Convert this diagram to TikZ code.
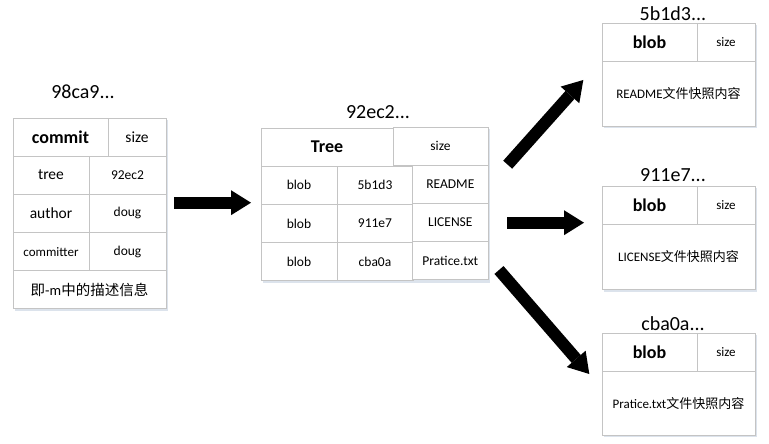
\documentclass[tikz,border=0pt]{standalone}
\usepackage{fontspec}
\setmainfont{Carlito}
\newfontfamily\cjk{Noto Sans CJK SC}
\usetikzlibrary{arrows.meta}
\definecolor{cellgray}{HTML}{C4C4C4}
\definecolor{shadowc}{HTML}{DCE3EC}
\tikzset{
  cell/.style={draw=cellgray, fill=white, line width=0.9pt, anchor=north west,
    inner sep=0pt, outer sep=0pt, text=black, align=center},
  hdr/.style={font=\fontsize{18}{20}\selectfont\bfseries},
  big/.style={font=\fontsize{15.5}{18}\selectfont},
  mid/.style={font=\fontsize{13.5}{16}\selectfont},
  sml/.style={font=\fontsize{13}{15}\selectfont},
  ttl/.style={font=\fontsize{20}{22}\selectfont, inner sep=0pt, text=black},
  shadowbox/.style={fill=shadowc},
  fatarrow/.style={line width=12pt, -{Triangle[length=20pt,width=25pt,line width=0pt]}},
}
\begin{document}
\begin{tikzpicture}[x=1pt,y=-1pt]
\useasboundingbox (0,0) rectangle (769,444);
% shadows
\fill[shadowbox] (14.5,120) rectangle (167.5,310.5);
\fill[shadowbox] (262.5,129) rectangle (490,282.5);
\fill[shadowbox] (603.5,25) rectangle (756.5,128.3);
\fill[shadowbox] (603.5,187.7) rectangle (756.5,291.5);
\fill[shadowbox] (603.5,335) rectangle (756.5,437.3);
% commit table
\node[ttl] (t-commit) at (83,92) {98ca9...};
\node[cell,hdr,minimum width=95pt,minimum height=38pt] (c-commit) at (13,118) {commit};
\node[cell,big,minimum width=58pt,minimum height=38pt] (c-size) at (108,118) {size};
\node[cell,big,minimum width=76pt,minimum height=38.3pt] (c-tree) at (13,156) {tree};
\node[cell,mid,minimum width=77pt,minimum height=38.3pt] (c-treev) at (89,156) {92ec2};
\node[cell,big,minimum width=76pt,minimum height=38.3pt] (c-author) at (13,194.3) {author};
\node[cell,mid,minimum width=77pt,minimum height=38.3pt] (c-authorv) at (89,194.3) {doug};
\node[cell,sml,minimum width=76pt,minimum height=38.3pt] (c-committer) at (13,232.6) {committer};
\node[cell,mid,minimum width=77pt,minimum height=38.3pt] (c-committerv) at (89,232.6) {doug};
\node[cell,font=\fontsize{14.5}{17}\selectfont,minimum width=153pt,minimum height=37.5pt] (c-msg) at (13,270.9) {{\cjk 即}-m{\cjk 中的描述信息}};
% tree table
\node[ttl] (t-tree) at (378,112) {92ec2...};
\node[cell,hdr,minimum width=132pt,minimum height=38pt] (r-tree) at (261,128) {Tree};
\node[cell,mid,minimum width=95pt,minimum height=38.5pt] (r-size) at (393,127) {size};
\node[cell,mid,minimum width=76pt,minimum height=38.3pt] (r-b1) at (261,166) {blob};
\node[cell,mid,minimum width=76pt,minimum height=38.3pt] (r-h1) at (337,166) {5b1d3};
\node[cell,mid,minimum width=75.3pt,minimum height=38pt] (r-n1) at (412.7,165.5) {README};
\node[cell,mid,minimum width=76pt,minimum height=38.3pt] (r-b2) at (261,204.3) {blob};
\node[cell,mid,minimum width=76pt,minimum height=38.3pt] (r-h2) at (337,204.3) {911e7};
\node[cell,mid,minimum width=75.3pt,minimum height=38pt] (r-n2) at (412.7,203.5) {LICENSE};
\node[cell,mid,minimum width=76pt,minimum height=38pt] (r-b3) at (261,242.6) {blob};
\node[cell,mid,minimum width=76pt,minimum height=38pt] (r-h3) at (337,242.6) {cba0a};
\node[cell,mid,minimum width=75.3pt,minimum height=37.8pt] (r-n3) at (412.7,241.5) {Pratice.txt};
% blob 1
\node[ttl] (t-b1) at (673,14) {5b1d3...};
\node[cell,hdr,minimum width=95pt,minimum height=38pt] (b1-h) at (602,23.3) {blob};
\node[cell,sml,minimum width=58pt,minimum height=38pt] (b1-s) at (697,23.3) {size};
\node[cell,sml,minimum width=153pt,minimum height=64.7pt] (b1-c) at (602,61.3) {README{\cjk 文件快照内容}};
% blob 2
\node[ttl] (t-b2) at (673,175) {911e7...};
\node[cell,hdr,minimum width=95pt,minimum height=38pt] (b2-h) at (602,186) {blob};
\node[cell,sml,minimum width=58pt,minimum height=38pt] (b2-s) at (697,186) {size};
\node[cell,sml,minimum width=153pt,minimum height=65.3pt] (b2-c) at (602,224) {LICENSE{\cjk 文件快照内容}};
% blob 3
\node[ttl] (t-b3) at (673,324) {cba0a...};
\node[cell,hdr,minimum width=95pt,minimum height=38pt] (b3-h) at (602,333.3) {blob};
\node[cell,sml,minimum width=58pt,minimum height=38pt] (b3-s) at (697,333.3) {size};
\node[cell,sml,minimum width=153pt,minimum height=63.7pt] (b3-c) at (602,371.3) {Pratice.txt{\cjk 文件快照内容}};
% arrows
\coordinate (a1s) at (174,202.7);
\coordinate (a1e) at (251,202.7);
\coordinate (a2s) at (507,222.7);
\coordinate (a2e) at (584,222.7);
\coordinate (a3s) at (507.7,164.7);
\coordinate (a3e) at (583.3,80);
\coordinate (a4s) at (499,270);
\coordinate (a4e) at (589.3,374);
\draw[fatarrow] (a1s) -- (a1e);
\draw[fatarrow] (a2s) -- (a2e);
\draw[fatarrow] (a3s) -- (a3e);
\draw[fatarrow] (a4s) -- (a4e);
\end{tikzpicture}
\end{document}
